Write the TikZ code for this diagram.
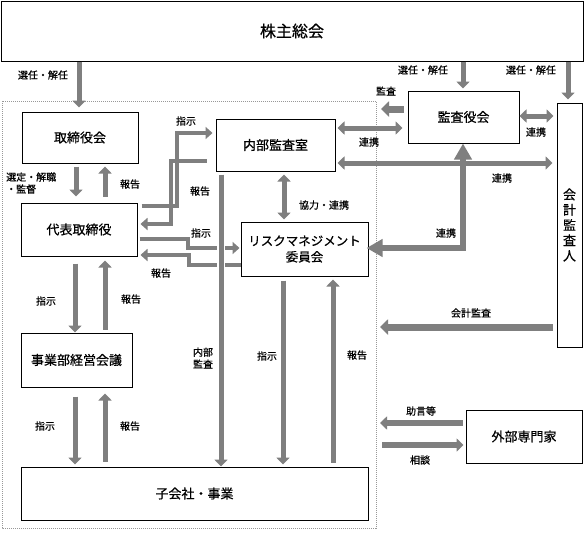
\documentclass[tikz,border=0pt]{standalone}
\usepackage{fontspec}
\newfontfamily\jp[FakeBold=0.6]{Noto Sans CJK JP}
\usetikzlibrary{arrows.meta}
\definecolor{ag}{HTML}{7F7F7F}
\begin{document}
\begin{tikzpicture}[x=1pt,y=-1pt,
  box/.style={draw, line width=1pt, inner sep=0pt, font=\jp\fontsize{13}{15}\selectfont},
  arr/.style={draw=ag, line width=5pt, -{Triangle[width=13pt,length=7pt]}},
  darr/.style={draw=ag, line width=5pt, {Triangle[width=13pt,length=7pt]}-{Triangle[width=13pt,length=7pt]}},
  thinarr/.style={draw=ag, line width=4.5pt, -{Triangle[width=12pt,length=7pt]}},
  thickarr/.style={draw=ag, line width=7pt, -{Triangle[width=15pt,length=8pt]}},
  bigdarr/.style={draw=ag, line width=6pt, {Triangle[width=17pt,length=16pt]}-{Triangle[width=17pt,length=16pt]}},
  lbl/.style={font=\jp\fontsize{10}{12}\selectfont, inner sep=0pt, align=center}
]
\useasboundingbox (0,0) rectangle (585,533);
\fill[white] (0,0) rectangle (585,533);

% dotted company area
\draw[ag!80, line width=1pt, dash pattern=on 1pt off 1pt] (2,101) rectangle (376,528);

% boxes
\node[box, minimum width=582pt, minimum height=60pt, font=\jp\fontsize{16}{18}\selectfont] (soukai) at (292,31) {株主総会};
\node[box, minimum width=116pt, minimum height=51pt] (tori) at (80,137.5) {取締役会};
\node[box, minimum width=116pt, minimum height=53pt] (daihyo) at (79,229.5) {代表取締役};
\node[box, minimum width=111pt, minimum height=54pt] (jigyobu) at (76.5,360) {事業部経営会議};
\node[box, minimum width=347pt, minimum height=53pt] (kogaisha) at (194.5,493.5) {子会社・事業};
\node[box, minimum width=119pt, minimum height=52pt] (naibu) at (275.5,145) {内部監査室};
\node[box, minimum width=127pt, minimum height=54pt, align=center, font=\jp\fontsize{12.5}{16}\selectfont] (risk) at (304.5,249) {リスクマネジメント\\委員会};
\node[box, minimum width=111pt, minimum height=52pt] (kansayaku) at (463.5,117) {監査役会};
\node[box, minimum width=25pt, minimum height=244pt, align=center, font=\jp\fontsize{13}{15.3}\selectfont] (kaikei) at (569.5,225) {会\\計\\監\\査\\人};
\node[box, minimum width=116pt, minimum height=53pt] (gaibu) at (524,436.5) {外部専門家};

% free ends
\coordinate (kansaend) at (381,109);
\coordinate (kaikeiend) at (380,327);
\coordinate (jogenend) at (380,423);
\coordinate (soudanstart) at (382,445);

% shareholders
\draw[arr, shorten >=4pt] (79,0 |- soukai.south) -- (79,0 |- tori.north);
\draw[arr, shorten >=2pt] (463,0 |- soukai.south) -- (463,0 |- kansayaku.north);
\draw[arr, shorten >=3pt] (568,0 |- soukai.south) -- (568,0 |- kaikei.north);
\node[lbl] at (43,75) {選任・解任};
\node[lbl] at (423,70) {選任・解任};
\node[lbl] at (531,70) {選任・解任};

% board <-> representative
\draw[arr, shorten <=3pt, shorten >=6pt] (76,0 |- tori.south) -- (76,0 |- daihyo.north);
\draw[arr, shorten <=6pt, shorten >=3pt] (105,0 |- daihyo.north) -- (105,0 |- tori.south);
\node[lbl, anchor=west, align=left] at (6,183) {選定・解職\\・監督};
\node[lbl] at (130,184) {報告};

% representative <-> division
\draw[arr, shorten <=7pt] (75,0 |- daihyo.south) -- (75,0 |- jigyobu.north);
\draw[arr, shorten <=3pt, shorten >=4pt] (105,0 |- jigyobu.north) -- (105,0 |- daihyo.south);
\node[lbl] at (46,301) {指示};
\node[lbl] at (131,299) {報告};

% division <-> subsidiaries
\draw[arr, shorten <=9pt, shorten >=2pt] (75,0 |- jigyobu.south) -- (75,0 |- kogaisha.north);
\draw[arr, shorten <=5pt, shorten >=6pt] (105,0 |- kogaisha.north) -- (105,0 |- jigyobu.south);
\node[lbl] at (45,426) {指示};
\node[lbl] at (130,426) {報告};

% representative <-> internal audit
\draw[thinarr, shorten <=4pt, shorten >=3pt] (daihyo.east |- 0,206) -| (177,133) -- (naibu.west |- 0,133);
\draw[thinarr, shorten >=3pt] ([xshift=-9pt]naibu.west |- 0,161) -| (171,224) -- (daihyo.east |- 0,224);
\node[lbl] at (186,121) {指示};
\node[lbl] at (200,191) {報告};

% representative <-> risk committee
\draw[thinarr, shorten <=2pt, shorten >=1pt] (daihyo.east |- 0,239) -| (188,248) -- (risk.west |- 0,248);
\draw[thinarr, shorten >=3pt] (risk.west |- 0,256) ++(0,9) -| (189,255) -- (daihyo.east |- 0,255);
\node[lbl] at (201,233) {指示};
\node[lbl] at (161,273) {報告};

% internal audit -> subsidiaries
\draw[white, line width=8pt, shorten <=3pt, shorten >=9pt] (221,0 |- naibu.south) -- (221,0 |- kogaisha.north);
\draw[arr, shorten <=3pt] (221,0 |- naibu.south) -- (221,0 |- kogaisha.north);
\node[lbl] at (203,358) {内部\\監査};

% risk <-> subsidiaries
\draw[arr, shorten <=4pt, shorten >=2pt] (283,0 |- risk.south) -- (283,0 |- kogaisha.north);
\draw[arr, shorten <=4pt, shorten >=3pt] (333,0 |- kogaisha.north) -- (333,0 |- risk.south);
\node[lbl] at (267,356) {指示};
\node[lbl] at (357,355) {報告};

% internal audit <-> risk
\draw[darr, shorten <=3pt, shorten >=2pt] (284,0 |- naibu.south) -- (284,0 |- risk.north);
\node[lbl] at (324,205) {協力・連携};

% internal audit <-> auditors
\draw[darr, shorten <=2pt, shorten >=5pt] (naibu.east |- 0,128) -- (kansayaku.west |- 0,128);
\node[lbl] at (369,142) {連携};
\draw[darr, shorten <=2pt, shorten >=4pt] (naibu.east |- 0,163) -- (kaikei.west |- 0,163);
\node[lbl] at (502,178) {連携};

% auditors <-> risk committee
\draw[bigdarr, shorten >=-2pt] (463,0 |- kansayaku.south) |- (risk.east |- 0,248);
\node[lbl] at (446,233) {連携};

% auditors audit
\draw[thickarr, shorten <=4pt] (kansayaku.west |- 0,109) -- (kansaend);
\node[lbl] at (386,91) {監査};

% auditors <-> accounting auditor
\draw[darr, shorten >=3pt] (kansayaku.east |- 0,116) -- (kaikei.west |- 0,116);
\node[lbl] at (536,132) {連携};

% accounting audit
\draw[thickarr, shorten <=4pt] (kaikei.west |- 0,327) -- (kaikeiend);
\node[lbl] at (471,313) {会計監査};

% external experts
\draw[arr, line width=6pt, shorten <=3pt] (gaibu.west |- 0,423) -- (jogenend);
\node[lbl] at (421,411) {助言等};
\draw[arr, line width=6pt, shorten >=2pt] (soudanstart) -- (gaibu.west |- 0,445);
\node[lbl] at (420,460) {相談};
\end{tikzpicture}
\end{document}
